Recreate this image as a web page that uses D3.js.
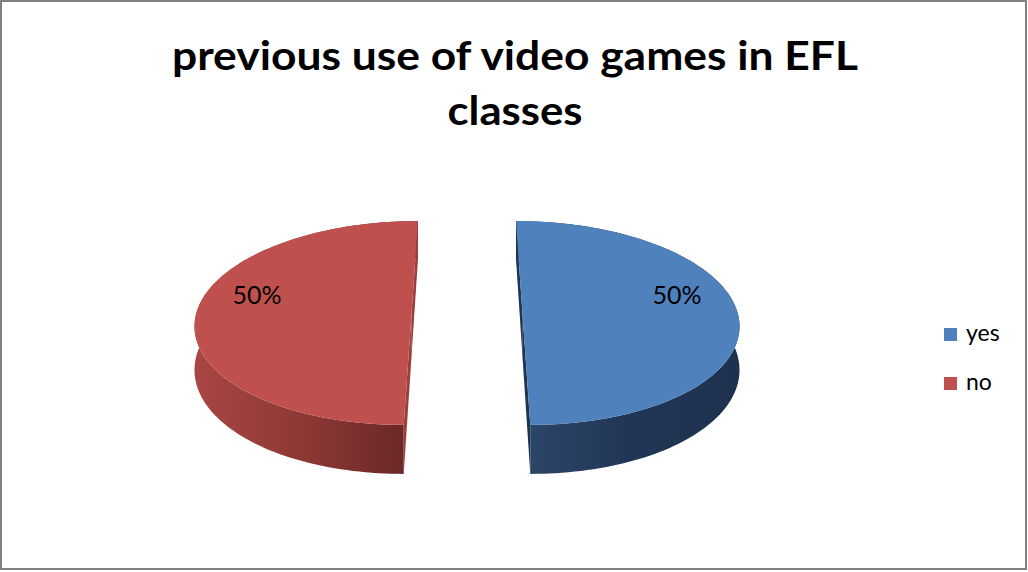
<!DOCTYPE html>
<html>
<head>
<meta charset="utf-8">
<script src="https://cdn.jsdelivr.net/npm/d3@7/dist/d3.min.js"></script>
<style>
  html, body { margin: 0; padding: 0; background: #fff; }
  svg { display: block; }
  text { font-family: Lato, "Open Sans", "DejaVu Sans", sans-serif; }
</style>
</head>
<body>
<svg id="chart" width="1028" height="572"></svg>
<script>
// Chart data
const titleLines = ["previous use of video games in EFL", "classes"];
const categories = ["yes", "no"];
const values = [50, 50];
const topColors = ["#4F81BD", "#C0504D"];
// outer wall shading, left to right
const sideStops = [
  ["#2D486B", "#213656", "#1F3150"],
  ["#A84643", "#8C3835", "#662625"]
];
const cutColors = ["#1F3352", "#9A3F3C"];

const svg = d3.select("#chart");
const W = 1028, H = 572;

// frame
svg.append("rect")
  .attr("x", 1).attr("y", 1).attr("width", W - 3).attr("height", H - 4)
  .attr("fill", "#fff").attr("stroke", "#808080").attr("stroke-width", 2);

// title
const titleX = 515;
const titleWidths = [686, 135];
const titleY = [70, 125];
titleLines.forEach((t, i) => {
  svg.append("text")
    .attr("x", titleX).attr("y", titleY[i])
    .attr("text-anchor", "middle")
    .attr("font-size", 41).attr("font-weight", "bold")
    .attr("textLength", titleWidths[i]).attr("lengthAdjust", "spacingAndGlyphs")
    .attr("fill", "#000")
    .text(t);
});

// 3D pie projection: pie lies flat in world (X right, Z toward viewer),
// thickness h in [0,1]; mild perspective shrinks far points.
const cx = 467, cy = 310, S = 214.5, T = 100.3, D = 42.8, persp = 0.127;
const explode = 0.2575;
function proj(X, Z, h) {
  const g = 1 / (1 - persp * Z);
  return [cx + S * X * g, cy + T * Z * g + D * h * g];
}

const pie = d3.pie().sort(null).startAngle(0).endAngle(2 * Math.PI);
const arcs = pie(values);
const N = 120;

const defs = svg.append("defs");
const gPie = svg.append("g");

arcs.forEach((a, i) => {
  const mid = (a.startAngle + a.endAngle) / 2;
  const ox = explode * Math.sin(mid), oz = -explode * Math.cos(mid);
  const angles = d3.range(N + 1).map(k => a.startAngle + (a.endAngle - a.startAngle) * k / N);
  const rim = (h) => angles.map(t => proj(ox + Math.sin(t), oz - Math.cos(t), h));
  const topRim = rim(0), botRim = rim(1);
  const c0 = proj(ox, oz, 0), c1 = proj(ox, oz, 1);

  // horizontal gradient across the slice's outer wall
  const xs = topRim.map(p => p[0]);
  const x0 = d3.min(xs), x1 = d3.max(xs);
  const gradId = "side" + i;
  const grad = defs.append("linearGradient").attr("id", gradId)
    .attr("gradientUnits", "userSpaceOnUse")
    .attr("x1", x0).attr("x2", x1).attr("y1", 0).attr("y2", 0);
  const stops = sideStops[i];
  stops.forEach((c, k) => grad.append("stop")
    .attr("offset", k / (stops.length - 1)).attr("stop-color", c));

  const line = d3.line();
  // outer wall
  gPie.append("path")
    .attr("d", line(topRim.concat(botRim.slice().reverse())) + "Z")
    .attr("fill", `url(#${gradId})`).attr("fill-rule", "nonzero");

  // flat cut faces (from centre to rim at start and end angle)
  [[topRim[0], botRim[0]], [topRim[N], botRim[N]]].forEach(([pt, pb]) => {
    gPie.append("path")
      .attr("d", line([c0, pt, pb, c1]) + "Z")
      .attr("fill", cutColors[i]);
  });

  // top face
  gPie.append("path")
    .attr("d", line([c0].concat(topRim)) + "Z")
    .attr("fill", topColors[i]);

  // percentage label
  const total = d3.sum(values);
  const lr = 0.74, lift = -0.15;
  const lp = proj(ox + lr * Math.sin(mid), oz - lr * Math.cos(mid) + lift, 0);
  svg.append("text")
    .attr("x", lp[0]).attr("y", lp[1] + 9)
    .attr("text-anchor", "middle")
    .attr("font-size", 25).attr("fill", "#000")
    .text(Math.round(values[i] / total * 100) + "%");
});

// legend
const legend = svg.append("g");
categories.forEach((c, i) => {
  const y = 341 + i * 49;
  legend.append("rect")
    .attr("x", 944).attr("y", y - 13).attr("width", 13).attr("height", 13)
    .attr("fill", topColors[i]);
  legend.append("text")
    .attr("x", 966).attr("y", y)
    .attr("font-size", 23).attr("fill", "#000")
    .text(c);
});
</script>
</body>
</html>
